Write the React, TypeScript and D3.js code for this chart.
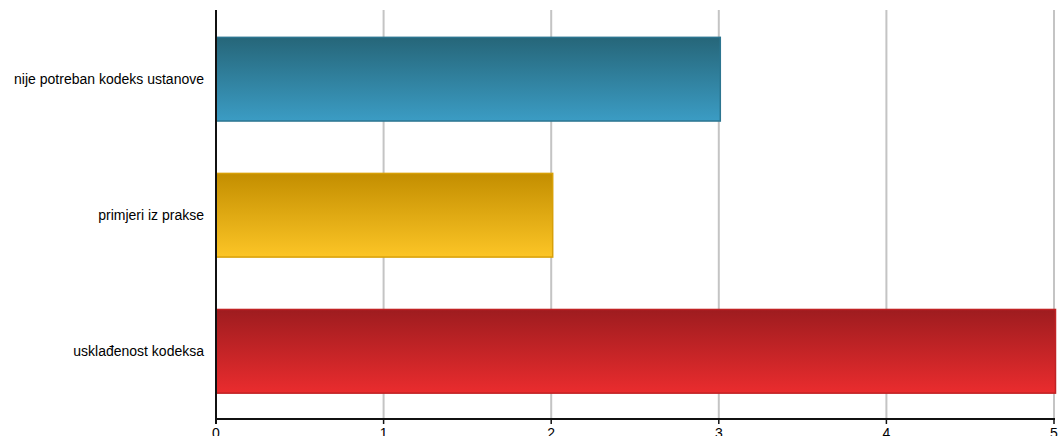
import React from "react";
import * as d3 from "d3";

const categories: string[] = ["nije potreban kodeks ustanove", "primjeri iz prakse", "usklađenost kodeksa"];
const values: number[] = [3, 2, 5];
const tickValues: number[] = [0, 1, 2, 3, 4, 5];
const gradTop: string[] = ["#266679", "#c38e00", "#9e1c1f"];
const gradBottom: string[] = ["#3b9cc4", "#fcc526", "#ea2c2e"];
const strokes: string[] = ["#2c7590", "#d8a008", "#c02224"];

export default function App() {
  const W = 1059, H = 436;
  const left = 216, right = 1054, top = 10, bottom = 419;
  const x = d3.scaleLinear().domain([0, 5]).range([left, right]);
  const y = d3.scaleBand<string>().domain(categories).range([top + 1.5, bottom]).paddingInner(0.385).paddingOuter(0.19);
  return (
    <svg width={W} height={H} style={{ position: "absolute", left: 0, top: 0, fontFamily: "'Liberation Sans', Arial, sans-serif" }}>
      <defs>
        {categories.map((c, i) => (
          <linearGradient key={c} id={`g${i}`} x1="0" y1="0" x2="0" y2="1">
            <stop offset="0%" stopColor={gradTop[i]} />
            <stop offset="100%" stopColor={gradBottom[i]} />
          </linearGradient>
        ))}
      </defs>
      {tickValues.filter((t) => t > 0).map((t) => (
        <line key={t} x1={x(t)} x2={x(t)} y1={top} y2={bottom} stroke="#c4c4c4" strokeWidth={2} />
      ))}
      {categories.map((c, i) => (
        <rect
          key={c}
          x={x(0)}
          y={y(c)!}
          width={x(values[i]) - x(0) + 1.5}
          height={y.bandwidth()}
          fill={`url(#g${i})`}
          stroke={strokes[i]}
          strokeWidth={1.5}
        />
      ))}
      {categories.map((c) => (
        <text key={c} x={204} y={y(c)! + y.bandwidth() / 2} dy="0.35em" textAnchor="end" fontSize={14} fill="#000">
          {c}
        </text>
      ))}
      <line x1={left} x2={left} y1={top} y2={bottom + 5} stroke="#111" strokeWidth={2} />
      <line x1={left} x2={right + 1} y1={bottom} y2={bottom} stroke="#111" strokeWidth={2} />
      {tickValues.map((t) => (
        <g key={t}>
          <line x1={x(t)} x2={x(t)} y1={bottom} y2={bottom + 5} stroke="#111" strokeWidth={1.5} />
          <text x={x(t)} y={438} textAnchor="middle" fontSize={14} fill="#000">
            {t}
          </text>
        </g>
      ))}
    </svg>
  );
}
